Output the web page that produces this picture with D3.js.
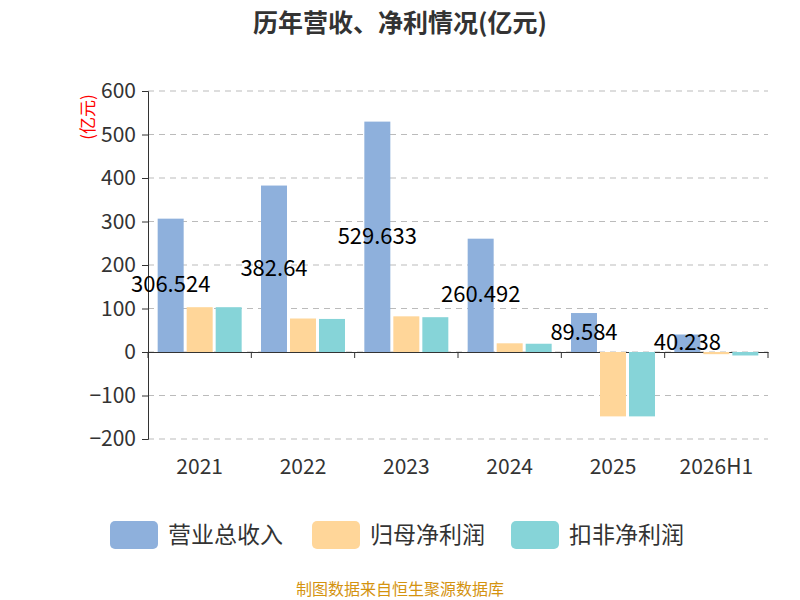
<!DOCTYPE html><html><head><meta charset="utf-8"><script src="https://cdn.jsdelivr.net/npm/d3@7"></script>
<style>body{margin:0;background:#fff}text{font-family:"Noto Sans CJK SC","Noto Sans",sans-serif}</style></head><body>
<svg id="c" width="800" height="600"></svg>
<script>
const categories=["2021","2022","2023","2024","2025","2026H1"];
const seriesNames=["营业总收入","归母净利润","扣非净利润"];
const revenue=[306.524,382.64,529.633,260.492,89.584,40.238];
const netProfit=[103,77,82,20,-148,-5];
const deducted=[103,76,80,19,-148,-8];
const yTicks=[-200,-100,0,100,200,300,400,500,600];
const colors=["#8eb0dc","#ffd699","#86d4d8"];
const svg=d3.select("#c");
const L=148,R=768,T=91,B=439;
const x=d3.scaleBand().domain(categories).range([L,R]);
const y=d3.scaleLinear().domain([-200,600]).range([B,T]);
svg.append("text").attr("x",400).attr("y",32).attr("text-anchor","middle").attr("font-size",25).attr("font-weight","bold").attr("fill","#333").text("历年营收、净利情况(亿元)");
svg.append("g").selectAll("line").data(yTicks).join("line").attr("x1",L).attr("x2",R).attr("y1",d=>y(d)).attr("y2",d=>y(d)).attr("stroke","#bbb").attr("stroke-dasharray","6,5");
const ya=svg.append("g").attr("transform",`translate(${L},0)`).call(d3.axisLeft(y).tickValues(yTicks).tickSize(6).tickPadding(6));
ya.selectAll("text").attr("font-size",21).attr("fill","#333");ya.selectAll("line,path").attr("stroke","#333");
const xa=svg.append("g").attr("transform",`translate(0,${y(0)})`).call(d3.axisBottom(x).tickSize(0).tickFormat(""));
xa.select("path").attr("stroke","#333");
svg.append("g").selectAll("line").data(d3.range(categories.length+1)).join("line").attr("x1",i=>L+i*x.bandwidth()).attr("x2",i=>L+i*x.bandwidth()).attr("y1",y(0)).attr("y2",y(0)+6).attr("stroke","#333");
svg.append("g").selectAll("text").data(categories).join("text").attr("x",d=>x(d)+x.bandwidth()/2).attr("y",474).attr("text-anchor","middle").attr("font-size",21).attr("fill","#333").text(d=>d);
const series=[revenue,netProfit,deducted];
const bw=26,step=29;
series.forEach((s,k)=>{
 svg.append("g").selectAll("rect").data(s).join("rect")
 .attr("x",(d,i)=>x(categories[i])+x.bandwidth()/2+(k-1)*step-bw/2).attr("width",bw)
 .attr("y",d=>y(Math.max(0,d))).attr("height",d=>Math.abs(y(d)-y(0))).attr("fill",colors[k]);
});
svg.append("g").selectAll("text").data(revenue).join("text")
 .attr("x",(d,i)=>x(categories[i])+x.bandwidth()/2-step).attr("y",d=>(y(d)+y(0))/2+7)
 .attr("text-anchor","middle").attr("font-size",22).attr("fill","#000").text(d=>d);
svg.append("text").attr("transform","translate(94,117) rotate(-90)").attr("text-anchor","middle").attr("font-size",17).attr("fill","red").text("(亿元)");
seriesNames.forEach((n,k)=>{
 const g=svg.append("g").attr("transform",`translate(${[110,312,511][k]},521)`);
 g.append("rect").attr("width",48).attr("height",28).attr("rx",5).attr("fill",colors[k]);
 g.append("text").attr("x",58).attr("y",22).attr("font-size",23).attr("fill","#333").text(n);
});
svg.append("text").attr("x",400).attr("y",595).attr("text-anchor","middle").attr("font-size",16).attr("fill","#d4930f").text("制图数据来自恒生聚源数据库");
</script></body></html>
